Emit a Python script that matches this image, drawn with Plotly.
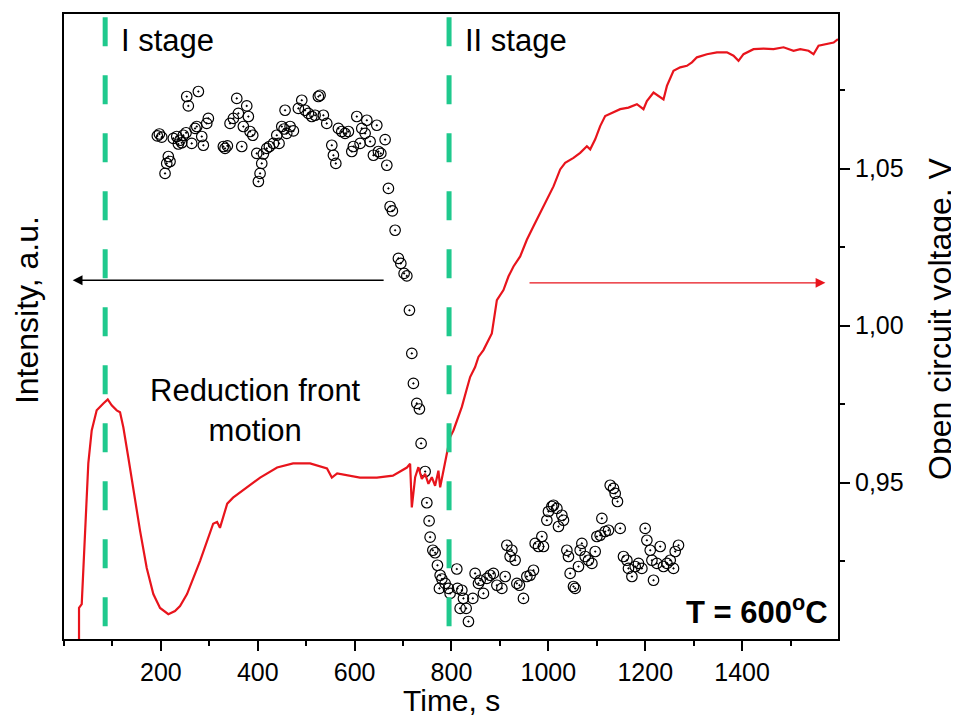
import plotly.graph_objects as go

# ---------------- data ----------------
# Open circuit voltage (red line): time, s  /  voltage, V
ocv_time = [31, 31, 36.6, 43.4, 50.2, 57.2, 67.5, 81.2, 90.3, 98.5, 108.8, 115.7, 122.5, 132.8,
            143.1, 157.0, 170.8, 184.4, 198.3, 215.4, 229.2, 239.6, 254, 281, 308, 316, 322, 337,
            349, 378, 405, 440, 473, 508, 543, 553, 564, 611, 646, 679, 708, 714.6, 718.1, 725.0,
            731.7, 738.8, 745.6, 752.4, 759.4, 766.2, 773.0, 776.6, 783.4, 790.4, 797.2, 804.0,
            811.0, 821.4, 831.7, 838.5, 848.8, 855.7, 866.0, 873.0, 883.3, 893.7, 907.3, 917.6,
            928.0, 941.8, 955.6, 969.3, 983.1, 996.9, 1010.6, 1024.4, 1034.7, 1051.9, 1065.7,
            1079.5, 1086.4, 1096.7, 1107.0, 1117.3, 1134.5, 1148.3, 1165.4, 1182.8, 1196.4,
            1203.4, 1217.1, 1227.4, 1237.7, 1244.8, 1258.4, 1272.2, 1286.0, 1296.4, 1306.7,
            1327.4, 1348.0, 1368.7, 1382.3, 1392.6, 1402.9, 1423.6, 1444.3, 1464.9, 1485.6,
            1506.2, 1520.0, 1537.2, 1547.5, 1557.8, 1575.3, 1589.0, 1598]
ocv_volt = [0.898, 0.9101, 0.9113, 0.9347, 0.9561, 0.9666, 0.9730, 0.9752, 0.9765, 0.9746, 0.9730,
            0.9724, 0.9676, 0.9580, 0.9474, 0.9347, 0.9228, 0.9145, 0.9101, 0.9081, 0.9091,
            0.9107, 0.9145, 0.9251, 0.9369, 0.9375, 0.9356, 0.9433, 0.9452, 0.9484, 0.9516,
            0.9548, 0.9561, 0.9561, 0.9545, 0.9516, 0.9529, 0.9516, 0.9516, 0.9522, 0.9548,
            0.9560, 0.9421, 0.9517, 0.9549, 0.9512, 0.9528, 0.9496, 0.9517, 0.9490, 0.9538,
            0.9485, 0.9538, 0.9592, 0.9645, 0.9666, 0.9698, 0.9741, 0.9799, 0.9836, 0.9868,
            0.9900, 0.9922, 0.9943, 0.9975, 1.0081, 1.0113, 1.0156, 1.0188, 1.0220, 1.0273,
            1.0316, 1.0358, 1.0401, 1.0443, 1.0497, 1.0518, 1.0534, 1.0550, 1.0571, 1.0561,
            1.0593, 1.0635, 1.0667, 1.0678, 1.0689, 1.0694, 1.0705, 1.0689, 1.0715, 1.0742,
            1.0731, 1.0720, 1.0763, 1.0811, 1.0822, 1.0827, 1.0838, 1.0854, 1.0864, 1.0870,
            1.0870, 1.0859, 1.0843, 1.0864, 1.0880, 1.0882, 1.0880, 1.0886, 1.0875, 1.0880,
            1.0875, 1.0864, 1.0891, 1.0896, 1.0901, 1.0912]

# Intensity (open circles): time, s  /  intensity, a.u.
int_time = [192.7, 196.9, 201.8, 215.4, 212.1, 218.9, 208.6, 225.7, 232.8, 239.6, 236.1, 246.4,
            252.0, 243.1, 253.4, 256.7, 277.4, 263.7, 270.6, 274.1, 284.4, 287.7, 294.7, 298.0,
            329.0, 332.5, 337.3, 342.8, 349.7, 356.7, 360.0, 367.0, 370.3, 377.3, 380.6, 384.1,
            389.7, 398.0, 401.3, 404.8, 408.3, 411.6, 418.6, 424.0, 432.3, 439.3, 444.0, 449.6,
            454.4, 459.9, 466.8, 473.6, 456.4, 483.9, 490.9, 497.7, 504.6, 511.6, 518.4, 525.2,
            528.7, 535.5, 542.5, 552.9, 556.2, 561.2, 566.5, 573.5, 580.3, 587.2, 594.2, 597.5,
            604.5, 611.3, 614.8, 621.7, 625.2, 632.0, 638.8, 645.8, 649.1, 654.1, 663.0, 666.5,
            669.8, 673.3, 678.0, 683.6, 690.4, 695.4, 702.2, 707.8, 713.2,
            718.1, 721.4, 728.4, 733.8, 737.3, 745.6, 749.1, 753.8, 755.9, 761.5, 766.2, 771.0,
            776.6, 780.1, 775.1, 786.9, 793.7, 797.2, 811.0, 812.3, 821.4, 824.7, 817.9, 830.3,
            835.0, 844.1, 848.8, 855.7, 859.2, 866.0, 873.0, 879.8, 886.6, 893.7, 904.0, 910.8,
            914.3, 921.1, 924.6, 931.4, 935.0, 940.3, 948.6, 955.6, 962.4, 969.3, 972.8, 979.6,
            986.6, 989.9, 996.9, 1000.2, 1007.2, 1010.6, 1017.6, 1020.9, 1027.9, 1031.2, 1038.2,
            1041.5, 1045.0, 1051.9, 1055.4, 1062.2, 1065.7, 1069.2, 1076.0, 1082.8, 1089.9,
            1096.7, 1100.2, 1107.0, 1110.5, 1117.3, 1124.2, 1127.7, 1134.5, 1138.0, 1142.7,
            1148.3, 1155.1, 1162.1, 1165.4, 1172.5, 1179.3, 1186.1, 1193.1, 1199.9, 1203.4,
            1210.3, 1213.8, 1217.1, 1224.1, 1230.9, 1237.7, 1244.8, 1251.6, 1258.4, 1261.9,
            1268.7]
int_value = [80.5, 80.8, 80.3, 77.2, 76.1, 76.4, 74.5, 80.1, 80.4, 79.8, 79.2, 80.6, 81.0, 79.4,
             86.8, 85.3, 87.6, 79.3, 81.7, 82.0, 80.4, 79.0, 82.5, 83.3, 78.8, 78.5, 78.9, 82.5,
             83.3, 86.5, 84.1, 78.8, 82.0, 85.3, 83.6, 81.2, 80.6, 77.7, 73.2, 74.5, 76.1, 77.6,
             78.5, 78.8, 79.3, 80.6, 79.3, 82.0, 81.6, 80.9, 82.0, 81.3, 84.6, 84.9, 86.2, 84.6,
             84.1, 83.6, 83.8, 86.8, 87.0, 83.8, 82.5, 79.0, 77.4, 76.1, 81.7, 81.2, 80.9, 81.2,
             78.0, 78.8, 83.6, 79.3, 81.7, 80.9, 83.0, 79.6, 77.4, 82.2, 78.0, 77.7, 79.9, 75.8,
             72.1, 69.2, 68.5, 65.4, 60.9, 60.1, 58.5, 58.1, 52.6,
             45.7, 40.9, 37.7, 36.8, 31.3, 26.8, 21.8, 18.9, 16.3, 14.2, 13.8, 11.8, 10.2, 9.6,
             8.1, 8.9, 8.1, 7.3, 11.2, 8.1, 7.8, 6.5, 4.9, 4.9, 2.8, 6.5, 10.5, 8.9, 9.4, 7.3,
             9.7, 10.2, 10.5, 8.6, 8.1, 10.0, 15.0, 13.2, 14.2, 12.6, 8.9, 8.6, 6.5, 10.0, 10.2,
             11.0, 15.3, 14.8, 16.4, 14.8, 19.0, 20.4, 21.2, 21.4, 20.9, 18.0, 19.8, 19.0, 14.2,
             13.2, 10.5, 8.4, 8.1, 11.6, 14.2, 15.3, 13.2, 12.6, 12.1, 14.0, 16.4, 16.6, 19.3,
             17.2, 17.4, 24.6, 24.1, 23.3, 22.0, 17.7, 13.2, 12.6, 11.3, 10.0, 11.6, 12.1, 11.3,
             17.7, 15.8, 14.2, 12.6, 9.4, 12.1, 14.8, 11.6, 12.1, 12.6, 11.3, 14.0, 15.0]

stage_times = [85, 795]
stage_labels = ["I stage", "II stage"]
volt_ticks = [0.95, 1.00, 1.05]
volt_ticktext = ["0,95", "1,00", "1,05"]
time_ticks = [200, 400, 600, 800, 1000, 1200, 1400]

RED = "#e8141c"
GREEN = "#1fc98d"
FONT = "Liberation Sans, Arial"

fig = go.Figure()

fig.add_trace(go.Scatter(
    x=ocv_time, y=ocv_volt, yaxis="y2", mode="lines",
    line=dict(color=RED, width=2.2), showlegend=False, hoverinfo="skip"))

fig.add_trace(go.Scatter(
    x=int_time, y=int_value, yaxis="y", mode="markers",
    marker=dict(symbol="circle-dot", size=10.5, color="rgba(0,0,0,0)",
                line=dict(color="black", width=1.2)),
    showlegend=False, hoverinfo="skip"))

# stage boundaries
for t in stage_times:
    fig.add_shape(type="line", xref="x", yref="paper", x0=t, x1=t, y0=0.995, y1=0.0,
                  line=dict(color=GREEN, width=5, dash="29px,29px"))

# stage labels
for t, lab in zip(stage_times, stage_labels):
    fig.add_annotation(x=t, y=0.957, xref="x", yref="paper", text=lab, showarrow=False,
                       xanchor="left", xshift=14, yanchor="middle",
                       font=dict(family=FONT, size=31, color="black"))

fig.add_annotation(x=395, y=0.366, xref="x", yref="paper",
                   text="Reduction front<br>motion", showarrow=False,
                   xanchor="center", yanchor="middle",
                   font=dict(family=FONT, size=31, color="black"))

fig.add_annotation(x=1582, y=0.047, xref="x", yref="paper",
                   text="<b>T = 600<sup>o</sup>C</b>", showarrow=False,
                   xanchor="right", yanchor="middle",
                   font=dict(family=FONT, size=31, color="black"))

# arrows
fig.add_annotation(x=18, y=57.4, ax=663, ay=57.4, xref="x", yref="y", axref="x", ayref="y",
                   text="", showarrow=True, arrowhead=2, arrowsize=1.4, arrowwidth=1.4,
                   arrowcolor="black")
fig.add_annotation(x=1572, y=1.0136, ax=958, ay=1.0136, xref="x", yref="y2", axref="x", ayref="y2",
                   text="", showarrow=True, arrowhead=2, arrowsize=1.4, arrowwidth=1.4,
                   arrowcolor=RED)

# axis titles
fig.add_annotation(x=0.5, y=-0.0985, xref="paper", yref="paper", text="Time, s",
                   showarrow=False, xanchor="center", yanchor="middle",
                   font=dict(family=FONT, size=30, color="black"))
fig.add_annotation(x=-0.048, y=0.526, xref="paper", yref="paper", text="Intensity, a.u.",
                   showarrow=False, textangle=-90, xanchor="center", yanchor="middle",
                   font=dict(family=FONT, size=32, color="black"))
fig.add_annotation(x=1.1318, y=0.512, xref="paper", yref="paper", text="Open circuit voltage, V",
                   showarrow=False, textangle=-90, xanchor="center", yanchor="middle",
                   font=dict(family=FONT, size=32, color="black"))

# the page places the figure 8 px from the top-left corner; margins compensate for that
fig.update_layout(
    width=959, height=718,
    margin=dict(l=56, r=129, t=6, b=87, autoexpand=False),
    paper_bgcolor="white", plot_bgcolor="white",
    xaxis=dict(range=[0, 1598], tickvals=time_ticks, ticks="outside", ticklen=10, tickwidth=2,
               tickcolor="black", showline=True, linecolor="black", linewidth=2, mirror=True,
               showgrid=False, zeroline=False,
               minor=dict(ticks="outside", ticklen=5, tickwidth=2, tickcolor="black", dtick=100,
                          tick0=0, showgrid=False),
               tickfont=dict(family=FONT, size=25, color="black")),
    yaxis=dict(range=[0, 100], showticklabels=False, ticks="", showline=True, linecolor="black",
               linewidth=2, showgrid=False, zeroline=False),
    yaxis2=dict(range=[0.9002, 1.0992], overlaying="y", side="right", tickvals=volt_ticks,
                ticktext=volt_ticktext, ticks="outside", ticklen=10, tickwidth=2, tickcolor="black",
                showline=True, linecolor="black", linewidth=2, showgrid=False, zeroline=False,
                minor=dict(ticks="outside", ticklen=5, tickwidth=2, tickcolor="black",
                           tickvals=[0.925, 0.975, 1.025, 1.075], showgrid=False),
                tickfont=dict(family=FONT, size=25, color="black")),
)

fig.write_html("out.html")
